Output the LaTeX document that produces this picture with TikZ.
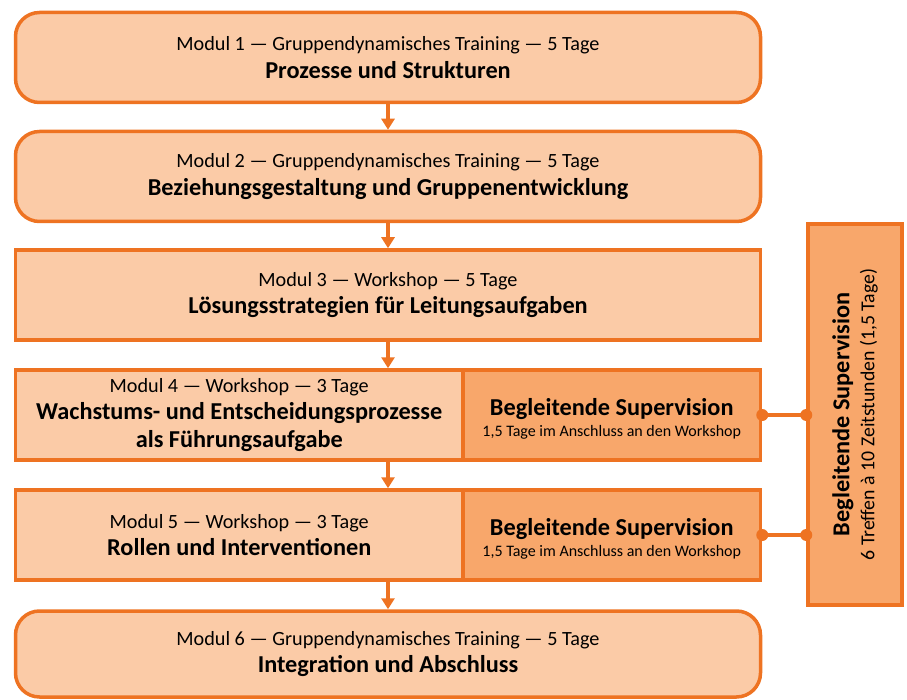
\documentclass[tikz,border=0pt]{standalone}
\usepackage{fontspec}
\setmainfont{Carlito}
\usetikzlibrary{arrows.meta}
\definecolor{lightfill}{HTML}{FBCBA7}
\definecolor{darkfill}{HTML}{F8A76B}
\definecolor{oborder}{HTML}{EE7322}
\newcommand{\bt}[1]{{\fontsize{24.3}{28}\selectfont\bfseries #1}}
\newcommand{\sm}[1]{{\fontsize{16}{20}\selectfont #1}}
\begin{document}
\begin{tikzpicture}[x=1pt,y=-1pt,
  modbox/.style={draw=oborder, line width=3.5pt, fill=lightfill, minimum width=745pt,
    minimum height=90pt, inner sep=0pt, align=center, font=\fontsize{20.2}{27.5}\selectfont},
  roundbox/.style={modbox, rounded corners=24pt},
  leftbox/.style={modbox, minimum width=447.5pt},
  supbox/.style={modbox, fill=darkfill, minimum width=297.5pt, font=\fontsize{24.3}{21}\selectfont},
  flowarrow/.style={draw=oborder, line width=3.5pt, -{Triangle[width=13pt,length=11pt]}},
  conn/.style={draw=oborder, line width=3.5pt},
  dot/.style={fill=oborder}
]
\useasboundingbox (0,0) rectangle (907,700);

\node[roundbox] (m1) at (388,57.5) {Modul 1 — Gruppendynamisches Training — 5 Tage\\ \bt{Prozesse und Strukturen}};
\node[roundbox] (m2) at (388,176.5) {Modul 2 — Gruppendynamisches Training — 5 Tage\\ \bt{Beziehungsgestaltung und Gruppenentwicklung}};
\node[modbox] (m3) at (388,295) {Modul 3 — Workshop — 5 Tage\\ \bt{Lösungsstrategien für Leitungsaufgaben}};
\node[leftbox] (m4) at (239.25,415) {Modul 4 — Workshop — 3 Tage\\ \bt{Wachstums- und Entscheidungsprozesse}\\ \bt{als Führungsaufgabe}};
\node[supbox] (s4) at (611.75,415) {};
\node[align=center, font=\fontsize{24.3}{21}\selectfont] (t4) at (611.75,419) {\bfseries Begleitende Supervision\\ \sm{1,5 Tage im Anschluss an den Workshop}};
\node[leftbox] (m5) at (239.25,535) {Modul 5 — Workshop — 3 Tage\\ \bt{Rollen und Interventionen}};
\node[supbox] (s5) at (611.75,535) {};
\node[align=center, font=\fontsize{24.3}{21}\selectfont] (t5) at (611.75,539) {\bfseries Begleitende Supervision\\ \sm{1,5 Tage im Anschluss an den Workshop}};
\node[roundbox, minimum height=86pt] (m6) at (388,654) {Modul 6 — Gruppendynamisches Training — 5 Tage\\ \bt{Integration und Abschluss}};

\node[modbox, fill=darkfill, minimum width=381pt, minimum height=94pt, rotate=90,
  font=\fontsize{19.8}{25}\selectfont] (sup) at (855,414.5)
  {\bt{Begleitende Supervision}\\ 6 Treffen à 10 Zeitstunden (1,5 Tage)};

\draw[flowarrow] (m1.south) -- (m2.north);
\draw[flowarrow] (m2.south) -- (m3.north);
\draw[flowarrow] (m3.south) -- (m4.north -| m3.south);
\draw[flowarrow] (m4.south -| m3.south) -- (m5.north -| m3.south);
\draw[flowarrow] (m5.south -| m3.south) -- (m6.north);

\coordinate (c4) at (sup.north |- s4.east);
\coordinate (c5) at (sup.north |- s5.east);
\draw[conn] (s4.east) -- (c4);
\draw[conn] (s5.east) -- (c5);
\fill[dot] (s4.east) circle[radius=6pt];
\fill[dot] (c4) circle[radius=6pt];
\fill[dot] (s5.east) circle[radius=6pt];
\fill[dot] (c5) circle[radius=6pt];
\end{tikzpicture}
\end{document}
